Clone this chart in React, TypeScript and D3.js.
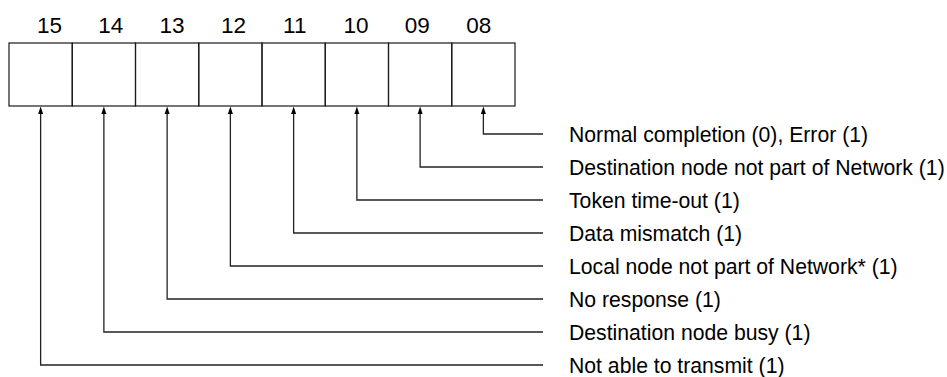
import React from "react";
import * as d3 from "d3";

const bits = ["15", "14", "13", "12", "11", "10", "09", "08"];
const descriptions = [
  "Normal completion (0), Error (1)",
  "Destination node not part of Network (1)",
  "Token time-out (1)",
  "Data mismatch (1)",
  "Local node not part of Network* (1)",
  "No response (1)",
  "Destination node busy (1)",
  "Not able to transmit (1)",
];
// descriptions[i] belongs to bit (8 + i)
const descBits = ["08", "09", "10", "11", "12", "13", "14", "15"];

export default function App() {
  const W = 947;
  const H = 377;
  const boxTop = 43;
  const boxBottom = 106;
  const xBox = d3.scaleBand().domain(bits).range([9, 515]).padding(0);
  const xLabel = d3.scaleLinear().domain([0, bits.length - 1]).range([49.5, 478.7]);
  const yRow = d3.scaleLinear().domain([0, descriptions.length - 1]).range([134, 365]);
  const lineEnd = 543;
  const textX = 569;
  const font = "'Liberation Sans', Arial, Helvetica, sans-serif";
  const stroke = "#1a1a1a";

  return (
    <svg width={W} height={H} style={{ position: "absolute", left: 0, top: 0, background: "#fff" }}>
      {bits.map((b, i) => (
        <text
          key={"l" + b}
          x={xLabel(i)}
          y={33}
          textAnchor="middle"
          fontFamily={font}
          fontSize={22.5}
          fill="#000"
        >
          {b}
        </text>
      ))}
      {bits.map((b) => (
        <rect
          key={"r" + b}
          x={xBox(b)!}
          y={boxTop}
          width={xBox.bandwidth()}
          height={boxBottom - boxTop}
          fill="none"
          stroke={stroke}
          strokeWidth={1.2}
        />
      ))}
      {descriptions.map((d, i) => {
        const b = descBits[i];
        const cx = xBox(b)! + xBox.bandwidth() / 2;
        const y = yRow(i);
        const path = d3.path();
        path.moveTo(cx, boxBottom + 7);
        path.lineTo(cx, y);
        path.lineTo(lineEnd, y);
        const tri = d3.path();
        tri.moveTo(cx, boxBottom + 0.5);
        tri.lineTo(cx - 2.5, boxBottom + 8);
        tri.lineTo(cx + 2.5, boxBottom + 8);
        tri.closePath();
        return (
          <g key={"a" + b}>
            <path d={path.toString()} fill="none" stroke="#222" strokeWidth={1.3} />
            <path d={tri.toString()} fill="#000" />
            <text x={textX} y={y + 7.5} fontFamily={font} fontSize={21.2} fill="#000">
              {d}
            </text>
          </g>
        );
      })}
    </svg>
  );
}
